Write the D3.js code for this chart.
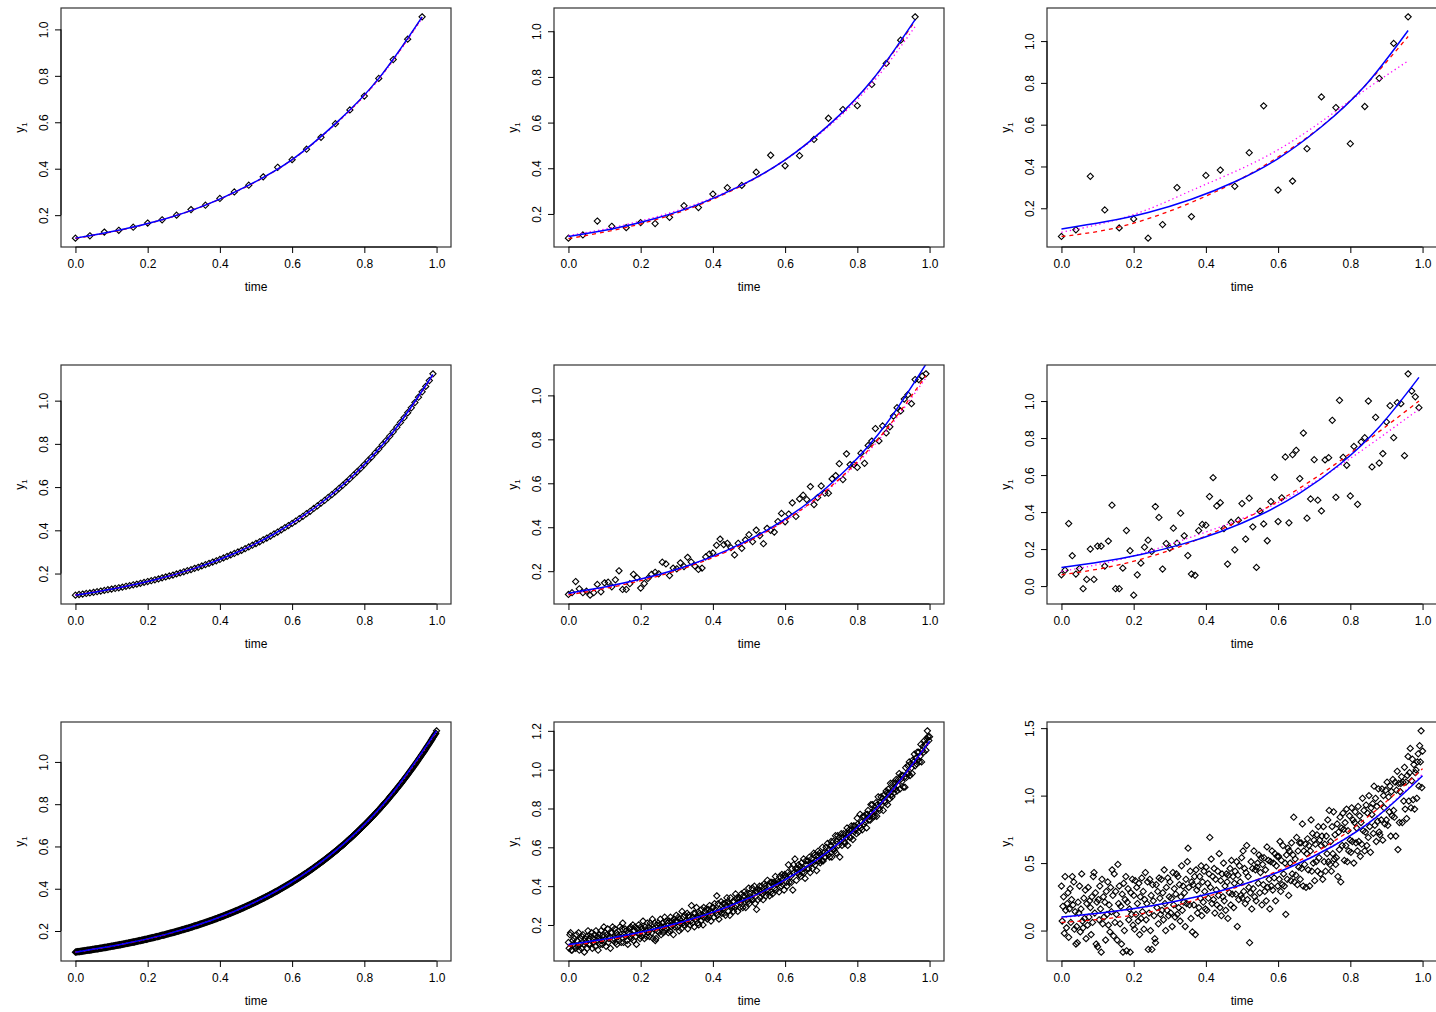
<!DOCTYPE html>
<html>
<head>
<meta charset="utf-8">
<script src="https://cdn.jsdelivr.net/npm/d3@7"></script>
<style>
  body { margin: 0; background: #fff; }
  svg { display: block; font-family: "Liberation Sans", Arial, Helvetica, sans-serif; }
</style>
</head>
<body>
<script>
// sampling grids (evenly spaced observation times)
const time1 = [0,0.04,0.08,0.12,0.16,0.2,0.24,0.28,0.32,0.36,0.4,0.44,0.48,0.52,0.56,0.6,0.64,0.68,0.72,0.76,0.8,0.84,0.88,0.92,0.96];
const time2 = d3.range(100).map(i => i / 100);
const time3 = d3.range(500).map(i => i / 499);

const lineT1 = [0,0.12,0.24,0.36,0.48,0.6,0.72,0.84,0.96];
const lineT2 = [0,0.11,0.22,0.33,0.44,0.55,0.66,0.77,0.88,0.99];
const lineT3 = [0,0.125,0.25,0.375,0.5,0.625,0.75,0.875,1];

const xTicks = [0,0.2,0.4,0.6,0.8,1.0];
const ytStd = [0.2,0.4,0.6,0.8,1.0];
const yt23 = [0,0.2,0.4,0.6,0.8,1.0];
const yt32 = [0.2,0.4,0.6,0.8,1.0,1.2];
const yt33 = [0,0.5,1.0,1.5];

// observations, row 1 (25 points)
const pts11 = [0.101,0.111,0.127,0.135,0.148,0.166,0.180,0.200,0.224,0.243,0.272,0.300,0.329,0.365,0.406,0.439,0.484,0.535,0.594,0.653,0.713,0.789,0.870,0.958,1.054];
const pts12 = [0.094,0.108,0.169,0.146,0.140,0.162,0.158,0.185,0.236,0.228,0.287,0.315,0.325,0.383,0.457,0.411,0.455,0.526,0.619,0.657,0.674,0.767,0.859,0.961,1.063];
const pts13 = [0.065,0.097,0.353,0.192,0.106,0.149,0.057,0.122,0.299,0.160,0.357,0.383,0.305,0.466,0.690,0.287,0.330,0.485,0.733,0.682,0.509,0.687,0.822,0.989,1.116];

// observations, row 2 (100 points)
const pts21 = [0.100,0.103,0.105,0.108,0.110,0.113,0.116,0.119,0.122,0.125,
  0.128,0.131,0.134,0.137,0.141,0.144,0.148,0.151,0.155,0.159,
  0.163,0.167,0.171,0.175,0.180,0.184,0.189,0.193,0.198,0.203,
  0.208,0.213,0.218,0.224,0.229,0.235,0.241,0.247,0.253,0.259,
  0.265,0.272,0.279,0.286,0.293,0.300,0.307,0.315,0.323,0.331,
  0.339,0.347,0.356,0.364,0.373,0.383,0.392,0.402,0.412,0.422,
  0.432,0.443,0.454,0.465,0.477,0.488,0.501,0.513,0.526,0.538,
  0.552,0.565,0.579,0.594,0.608,0.623,0.639,0.655,0.671,0.687,
  0.704,0.722,0.739,0.758,0.776,0.796,0.815,0.835,0.856,0.877,
  0.899,0.921,0.944,0.967,0.991,1.016,1.041,1.066,1.093,1.124];
const pts22 = [0.094,0.102,0.153,0.120,0.102,0.109,0.091,0.102,0.140,0.106,
  0.147,0.150,0.129,0.161,0.202,0.117,0.117,0.143,0.186,0.170,
  0.123,0.144,0.167,0.186,0.195,0.188,0.241,0.233,0.180,0.214,
  0.211,0.238,0.221,0.263,0.242,0.224,0.208,0.214,0.265,0.278,
  0.283,0.318,0.346,0.321,0.327,0.307,0.274,0.327,0.304,0.342,
  0.366,0.334,0.387,0.362,0.325,0.395,0.386,0.378,0.426,0.463,
  0.425,0.460,0.511,0.449,0.529,0.546,0.526,0.585,0.503,0.535,
  0.588,0.555,0.555,0.620,0.635,0.689,0.617,0.734,0.685,0.686,
  0.672,0.737,0.691,0.772,0.792,0.849,0.793,0.861,0.829,0.857,
  0.906,0.944,0.929,0.983,1.003,0.962,1.072,1.072,1.088,1.098];
const pts23 = [0.061,0.086,0.338,0.164,0.065,0.095,-0.014,0.036,0.200,0.036,
  0.216,0.216,0.108,0.243,0.437,-0.014,-0.014,0.097,0.300,0.191,
  -0.049,0.061,0.124,0.210,0.248,0.187,0.430,0.371,0.092,0.230,
  0.205,0.313,0.232,0.394,0.272,0.165,0.065,0.058,0.300,0.333,
  0.329,0.484,0.586,0.433,0.451,0.311,0.119,0.345,0.196,0.356,
  0.446,0.254,0.475,0.320,0.101,0.405,0.336,0.245,0.457,0.588,
  0.349,0.477,0.698,0.342,0.710,0.734,0.581,0.827,0.367,0.471,
  0.683,0.464,0.406,0.682,0.694,0.896,0.480,1.004,0.696,0.653,
  0.487,0.755,0.442,0.779,0.802,1.000,0.644,0.912,0.665,0.716,
  0.887,0.975,0.802,0.991,0.986,0.705,1.147,1.054,1.023,0.964];

// observations, row 3 (500 points)
const pts31 = [0.100,0.101,0.101,0.102,0.102,0.103,0.103,0.104,0.104,0.105,
  0.105,0.106,0.106,0.107,0.107,0.108,0.108,0.109,0.109,0.110,
  0.110,0.111,0.111,0.112,0.113,0.113,0.114,0.114,0.115,0.115,
  0.116,0.116,0.117,0.118,0.118,0.119,0.119,0.120,0.120,0.121,
  0.122,0.122,0.123,0.123,0.124,0.125,0.125,0.126,0.126,0.127,
  0.128,0.128,0.129,0.130,0.130,0.131,0.132,0.132,0.133,0.133,
  0.134,0.135,0.135,0.136,0.137,0.137,0.138,0.139,0.139,0.140,
  0.141,0.141,0.142,0.143,0.144,0.144,0.145,0.146,0.146,0.147,
  0.148,0.148,0.149,0.150,0.151,0.151,0.152,0.153,0.154,0.154,
  0.155,0.156,0.157,0.157,0.158,0.159,0.160,0.161,0.161,0.162,
  0.163,0.164,0.165,0.165,0.166,0.167,0.168,0.169,0.169,0.170,
  0.171,0.172,0.173,0.174,0.174,0.175,0.176,0.177,0.178,0.179,
  0.180,0.180,0.181,0.182,0.183,0.184,0.185,0.186,0.187,0.188,
  0.189,0.190,0.191,0.191,0.192,0.193,0.194,0.195,0.196,0.197,
  0.198,0.199,0.200,0.201,0.202,0.203,0.204,0.205,0.206,0.207,
  0.208,0.209,0.210,0.211,0.212,0.213,0.214,0.215,0.216,0.217,
  0.218,0.219,0.220,0.222,0.223,0.224,0.225,0.226,0.227,0.228,
  0.229,0.230,0.232,0.233,0.234,0.235,0.236,0.237,0.238,0.240,
  0.241,0.242,0.243,0.244,0.246,0.247,0.248,0.249,0.250,0.251,
  0.253,0.254,0.255,0.257,0.258,0.259,0.260,0.262,0.263,0.264,
  0.265,0.267,0.268,0.269,0.271,0.272,0.273,0.275,0.276,0.277,
  0.279,0.280,0.281,0.283,0.284,0.286,0.287,0.288,0.290,0.291,
  0.293,0.294,0.296,0.297,0.298,0.300,0.301,0.303,0.304,0.306,
  0.307,0.309,0.310,0.312,0.313,0.315,0.316,0.318,0.320,0.321,
  0.323,0.324,0.326,0.327,0.329,0.331,0.332,0.334,0.335,0.337,
  0.339,0.340,0.342,0.344,0.346,0.347,0.349,0.351,0.352,0.354,
  0.356,0.357,0.359,0.361,0.363,0.364,0.366,0.368,0.370,0.372,
  0.373,0.375,0.377,0.379,0.381,0.383,0.385,0.386,0.388,0.390,
  0.392,0.394,0.396,0.398,0.400,0.402,0.404,0.406,0.408,0.410,
  0.412,0.414,0.416,0.418,0.420,0.422,0.424,0.426,0.428,0.430,
  0.432,0.434,0.437,0.439,0.441,0.443,0.445,0.447,0.450,0.452,
  0.454,0.456,0.458,0.461,0.463,0.465,0.468,0.470,0.472,0.474,
  0.477,0.479,0.481,0.484,0.486,0.489,0.491,0.493,0.496,0.498,
  0.501,0.503,0.506,0.508,0.511,0.513,0.516,0.518,0.521,0.523,
  0.526,0.528,0.531,0.533,0.536,0.539,0.541,0.544,0.547,0.549,
  0.552,0.555,0.557,0.560,0.563,0.566,0.568,0.571,0.574,0.577,
  0.579,0.582,0.585,0.588,0.591,0.594,0.597,0.600,0.602,0.605,
  0.608,0.611,0.614,0.617,0.620,0.624,0.627,0.630,0.633,0.636,
  0.639,0.642,0.645,0.648,0.652,0.655,0.658,0.661,0.664,0.668,
  0.671,0.674,0.677,0.681,0.684,0.688,0.691,0.694,0.698,0.701,
  0.704,0.708,0.711,0.715,0.718,0.722,0.725,0.729,0.732,0.736,
  0.739,0.743,0.747,0.750,0.754,0.758,0.762,0.765,0.769,0.773,
  0.776,0.780,0.784,0.788,0.792,0.796,0.800,0.804,0.807,0.811,
  0.815,0.819,0.823,0.827,0.832,0.836,0.840,0.844,0.848,0.852,
  0.856,0.860,0.865,0.869,0.873,0.877,0.882,0.886,0.890,0.895,
  0.899,0.903,0.908,0.912,0.917,0.921,0.926,0.930,0.935,0.939,
  0.944,0.949,0.953,0.958,0.963,0.967,0.972,0.977,0.982,0.986,
  0.991,0.996,1.001,1.006,1.011,1.016,1.021,1.026,1.031,1.036,
  1.041,1.046,1.051,1.056,1.061,1.067,1.072,1.077,1.082,1.087,
  1.093,1.098,1.104,1.109,1.115,1.120,1.126,1.131,1.136,1.147];
const pts32 = [0.11,0.08,0.15,0.16,0.07,0.07,0.12,0.10,0.13,0.09,
  0.08,0.15,0.12,0.09,0.16,0.07,0.10,0.13,0.08,0.14,
  0.15,0.10,0.06,0.13,0.11,0.14,0.08,0.17,0.10,0.13,
  0.10,0.14,0.16,0.08,0.13,0.11,0.15,0.09,0.17,0.12,
  0.14,0.07,0.13,0.15,0.10,0.17,0.12,0.10,0.15,0.19,
  0.12,0.16,0.09,0.15,0.18,0.11,0.13,0.14,0.08,0.16,
  0.16,0.19,0.12,0.13,0.18,0.11,0.16,0.10,0.15,0.14,
  0.12,0.19,0.15,0.11,0.18,0.21,0.11,0.15,0.18,0.14,
  0.17,0.12,0.10,0.16,0.18,0.14,0.19,0.13,0.15,0.20,
  0.12,0.17,0.19,0.14,0.10,0.18,0.16,0.20,0.15,0.13,
  0.19,0.14,0.18,0.22,0.16,0.13,0.19,0.17,0.14,0.21,
  0.16,0.19,0.14,0.21,0.18,0.16,0.23,0.13,0.18,0.21,
  0.12,0.13,0.20,0.17,0.21,0.16,0.20,0.23,0.15,0.19,
  0.21,0.16,0.19,0.24,0.17,0.22,0.18,0.21,0.16,0.22,
  0.17,0.24,0.19,0.22,0.20,0.15,0.23,0.19,0.22,0.25,
  0.22,0.19,0.24,0.17,0.23,0.21,0.18,0.27,0.21,0.24,
  0.20,0.25,0.22,0.21,0.26,0.18,0.25,0.24,0.20,0.22,
  0.30,0.21,0.24,0.26,0.19,0.26,0.23,0.29,0.24,0.21,
  0.20,0.26,0.25,0.22,0.28,0.25,0.20,0.29,0.24,0.27,
  0.28,0.24,0.23,0.28,0.24,0.30,0.27,0.22,0.26,0.29,
  0.29,0.24,0.31,0.28,0.26,0.35,0.25,0.31,0.23,0.28,
  0.27,0.32,0.26,0.28,0.31,0.26,0.31,0.25,0.30,0.34,
  0.32,0.27,0.31,0.25,0.34,0.30,0.29,0.32,0.27,0.32,
  0.29,0.36,0.30,0.34,0.27,0.33,0.34,0.29,0.32,0.36,
  0.33,0.29,0.35,0.37,0.32,0.29,0.36,0.33,0.32,0.39,
  0.31,0.36,0.34,0.33,0.39,0.33,0.36,0.40,0.31,0.37,
  0.28,0.37,0.33,0.38,0.40,0.34,0.37,0.40,0.36,0.33,
  0.41,0.37,0.40,0.35,0.38,0.43,0.37,0.40,0.35,0.42,
  0.37,0.42,0.36,0.41,0.42,0.39,0.45,0.38,0.41,0.43,
  0.42,0.37,0.45,0.42,0.40,0.46,0.41,0.45,0.38,0.46,
  0.45,0.42,0.40,0.47,0.51,0.42,0.46,0.45,0.42,0.49,
  0.38,0.51,0.47,0.54,0.49,0.43,0.47,0.49,0.51,0.46,
  0.50,0.45,0.52,0.47,0.49,0.54,0.47,0.44,0.53,0.51,
  0.49,0.53,0.49,0.55,0.47,0.52,0.54,0.49,0.52,0.57,
  0.56,0.51,0.53,0.48,0.56,0.58,0.53,0.57,0.52,0.56,
  0.53,0.60,0.53,0.57,0.55,0.55,0.60,0.57,0.62,0.56,
  0.59,0.55,0.61,0.63,0.55,0.59,0.63,0.59,0.58,0.66,
  0.57,0.63,0.66,0.61,0.65,0.55,0.63,0.67,0.61,0.65,
  0.67,0.63,0.62,0.67,0.65,0.70,0.61,0.67,0.69,0.65,
  0.65,0.71,0.69,0.64,0.71,0.68,0.71,0.69,0.67,0.75,
  0.72,0.68,0.71,0.77,0.70,0.73,0.69,0.76,0.72,0.76,
  0.73,0.77,0.70,0.77,0.79,0.74,0.76,0.74,0.82,0.78,
  0.82,0.76,0.79,0.76,0.79,0.83,0.76,0.82,0.86,0.80,
  0.79,0.83,0.86,0.82,0.85,0.79,0.87,0.84,0.83,0.89,
  0.88,0.82,0.90,0.88,0.85,0.93,0.87,0.86,0.93,0.90,
  0.88,0.93,0.90,0.95,0.89,0.92,0.95,0.98,0.90,0.95,
  0.97,0.94,0.97,0.91,0.96,0.91,1.01,0.96,0.98,1.02,
  0.98,1.04,0.97,1.03,1.01,0.98,1.05,1.04,1.08,1.02,
  1.06,1.03,1.09,1.05,1.09,1.04,1.07,1.13,1.04,1.10,
  1.12,1.09,1.15,1.13,1.10,1.16,1.20,1.17,1.15,1.17];
const pts33 = [0.33,0.07,0.18,0.25,-0.02,0.40,0.15,0.02,0.20,0.28,
  -0.05,0.16,0.31,0.06,0.23,0.40,0.19,0.36,0.01,0.14,
  -0.10,0.03,-0.09,0.21,0.13,0.33,-0.01,0.16,0.42,0.07,
  0.02,0.24,0.09,0.30,-0.06,0.20,0.04,0.32,0.10,0.22,
  0.17,-0.03,0.25,0.06,0.40,0.43,0.13,0.28,-0.10,0.21,
  -0.12,0.23,0.08,0.33,0.16,-0.16,0.38,0.05,0.25,0.10,
  0.21,-0.07,0.29,0.12,0.36,0.04,0.19,-0.01,0.32,0.14,
  0.45,0.26,-0.04,0.42,0.06,0.29,0.12,-0.07,0.49,0.20,
  0.33,0.05,0.18,-0.10,0.27,-0.16,0.35,0.00,0.23,0.40,
  -0.15,0.21,0.31,0.08,0.16,-0.16,0.28,0.12,0.38,0.04,
  0.26,0.01,0.37,0.12,0.32,0.20,0.07,0.35,-0.03,0.25,
  0.09,0.39,0.14,0.29,0.01,0.23,0.43,0.08,0.20,0.36,
  -0.14,0.13,0.38,0.00,0.26,-0.14,0.34,0.22,0.11,-0.06,
  -0.09,0.34,0.17,0.29,0.05,0.39,0.24,0.12,0.38,0.15,
  0.28,0.08,0.45,0.20,0.00,0.32,0.15,0.39,0.11,0.25,
  0.36,0.13,0.24,0.03,0.43,0.19,0.31,0.10,0.27,0.42,
  0.12,0.40,0.17,0.34,0.07,0.25,0.48,0.15,0.33,0.21,
  0.28,0.03,0.38,0.20,0.51,0.61,0.32,0.19,0.44,0.09,
  0.36,-0.01,0.34,0.19,0.40,-0.03,0.45,0.30,0.13,0.33,
  0.17,0.40,0.24,0.48,0.11,0.36,0.21,0.44,0.29,0.16,
  0.47,0.15,0.35,0.24,0.42,0.69,0.32,0.53,0.20,0.40,
  0.23,0.46,0.13,0.38,0.30,0.19,0.44,0.26,0.57,0.17,
  0.37,0.11,0.42,0.25,0.50,0.22,0.33,0.15,0.42,0.36,
  0.09,0.41,0.28,0.46,0.19,0.52,0.27,0.40,0.17,0.35,
  0.44,0.27,0.51,0.03,0.41,0.23,0.48,0.36,0.26,0.54,
  0.24,0.59,0.29,0.46,0.20,0.43,0.63,0.23,0.40,0.32,
  -0.09,0.28,0.51,0.16,0.46,0.31,0.59,0.25,0.45,0.22,
  0.47,0.50,0.35,0.56,0.28,0.43,0.54,0.19,0.49,0.34,
  0.54,0.29,0.45,0.22,0.62,0.32,0.52,0.38,0.16,0.51,
  0.33,0.59,0.30,0.50,0.39,0.57,0.22,0.48,0.55,0.33,
  0.55,0.38,0.66,0.29,0.52,0.34,0.63,0.42,0.33,0.50,
  0.12,0.56,0.38,0.61,0.26,0.59,0.50,0.37,0.65,0.42,
  0.56,0.84,0.36,0.53,0.41,0.69,0.34,0.59,0.47,0.65,
  0.38,0.65,0.46,0.79,0.33,0.59,0.49,0.64,0.32,0.57,
  0.68,0.45,0.63,0.33,0.59,0.82,0.44,0.72,0.50,0.67,
  0.37,0.64,0.51,0.71,0.44,0.77,0.54,0.67,0.42,0.63,
  0.70,0.38,0.77,0.51,0.64,0.44,0.70,0.57,0.82,0.51,
  0.89,0.49,0.66,0.44,0.77,0.57,0.88,0.53,0.71,0.49,
  0.54,0.79,0.40,0.73,0.60,0.84,0.36,0.76,0.63,0.87,
  0.75,0.52,0.80,0.63,0.90,0.51,0.74,0.59,0.85,0.67,
  0.58,0.91,0.66,0.82,0.50,0.80,0.88,0.65,0.76,0.59,
  0.92,0.66,0.85,0.55,0.80,0.64,0.98,0.74,0.89,0.59,
  0.73,0.93,0.63,0.87,0.69,1.00,0.77,0.58,0.91,0.86,
  0.94,0.72,1.07,0.78,0.98,0.66,0.92,0.81,1.05,0.73,
  0.71,0.94,0.82,1.05,0.67,1.00,0.91,0.79,1.04,0.82,
  1.10,0.78,0.99,0.88,1.07,0.70,1.03,0.85,1.12,0.89,
  0.84,1.10,0.70,1.04,1.18,0.60,1.09,0.80,1.03,1.09,
  1.14,0.80,1.10,0.96,1.21,0.90,1.10,0.83,1.15,1.29,
  0.96,1.17,1.35,0.91,1.11,1.27,0.97,1.23,0.90,1.17,
  1.19,0.98,1.25,1.31,1.07,1.37,1.25,1.48,1.06,1.33];

// fitted curves (blue solid, red dashed, magenta dotted), read at lineT*
const blue11 = [0.101,0.135,0.180,0.243,0.329,0.439,0.594,0.789,1.054];
const red11  = [0.100,0.134,0.180,0.243,0.328,0.439,0.593,0.788,1.052];
const mag11  = [0.101,0.135,0.181,0.244,0.329,0.438,0.591,0.785,1.048];
const blue12 = [0.101,0.134,0.180,0.242,0.326,0.437,0.588,0.784,1.051];
const red12  = [0.092,0.127,0.174,0.238,0.324,0.437,0.588,0.783,1.045];
const mag12  = [0.105,0.140,0.186,0.247,0.328,0.436,0.582,0.770,1.020];
const blue13 = [0.101,0.135,0.180,0.243,0.327,0.438,0.590,0.785,1.051];
const red13  = [0.065,0.095,0.150,0.228,0.325,0.445,0.592,0.785,1.022];
const mag13  = [0.085,0.130,0.195,0.285,0.375,0.480,0.615,0.765,0.905];

const blue21 = [0.100,0.131,0.171,0.224,0.293,0.383,0.501,0.655,0.856,1.121];
const red21  = [0.100,0.131,0.171,0.224,0.293,0.383,0.501,0.655,0.856,1.120];
const mag21  = [0.101,0.131,0.171,0.224,0.293,0.383,0.500,0.654,0.854,1.117];
const blue22 = [0.100,0.131,0.172,0.225,0.296,0.387,0.507,0.664,0.870,1.142];
const red22  = [0.092,0.124,0.165,0.219,0.290,0.381,0.498,0.650,0.845,1.090];
const mag22  = [0.095,0.128,0.170,0.224,0.292,0.381,0.496,0.645,0.838,1.080];
const blue23 = [0.100,0.131,0.171,0.224,0.294,0.384,0.502,0.657,0.860,1.128];
const red23  = [0.061,0.095,0.145,0.215,0.305,0.405,0.530,0.675,0.835,1.000];
const mag23  = [0.080,0.120,0.175,0.245,0.320,0.405,0.515,0.650,0.800,0.955];

const blue31 = [0.100,0.136,0.184,0.250,0.339,0.460,0.623,0.846,1.147];
const red31  = [0.100,0.136,0.184,0.250,0.339,0.460,0.623,0.846,1.146];
const mag31  = [0.100,0.136,0.184,0.250,0.339,0.460,0.622,0.844,1.143];
const blue32 = [0.100,0.136,0.184,0.250,0.339,0.460,0.623,0.846,1.147];
const red32  = [0.090,0.127,0.177,0.245,0.336,0.458,0.622,0.845,1.150];
const mag32  = [0.097,0.133,0.182,0.249,0.339,0.460,0.622,0.843,1.140];
const blue33 = [0.100,0.136,0.184,0.250,0.339,0.460,0.623,0.846,1.147];
const red33  = [0.060,0.088,0.140,0.230,0.335,0.475,0.655,0.900,1.200];
const mag33  = [0.095,0.132,0.182,0.250,0.340,0.462,0.627,0.852,1.160];

const panels = [
  {row: 0, col: 0, t: time1, y: pts11, yt: ytStd, lt: lineT1, blue: blue11, red: red11, mag: mag11},
  {row: 0, col: 1, t: time1, y: pts12, yt: ytStd, lt: lineT1, blue: blue12, red: red12, mag: mag12},
  {row: 0, col: 2, t: time1, y: pts13, yt: ytStd, lt: lineT1, blue: blue13, red: red13, mag: mag13},
  {row: 1, col: 0, t: time2, y: pts21, yt: ytStd, lt: lineT2, blue: blue21, red: red21, mag: mag21},
  {row: 1, col: 1, t: time2, y: pts22, yt: ytStd, lt: lineT2, blue: blue22, red: red22, mag: mag22},
  {row: 1, col: 2, t: time2, y: pts23, yt: yt23, lt: lineT2, blue: blue23, red: red23, mag: mag23},
  {row: 2, col: 0, t: time3, y: pts31, yt: ytStd, lt: lineT3, blue: blue31, red: red31, mag: mag31},
  {row: 2, col: 1, t: time3, y: pts32, yt: yt32, lt: lineT3, blue: blue32, red: red32, mag: mag32},
  {row: 2, col: 2, t: time3, y: pts33, yt: yt33, lt: lineT3, blue: blue33, red: red33, mag: mag33}
];

const W = 1436, H = 1012,
      colX = [61, 554, 1047],
      rowY = [8, 365, 722],
      pw = 390, ph = 239,
      fmt = d3.format(".1f"),
      r = 3.1,
      diamond = `M0,${-r}L${r},0L0,${r}L${-r},0Z`;

const svg = d3.select("body")
  .append("svg")
  .attr("width", W)
  .attr("height", H);

const defs = svg.append("defs");

panels.forEach((p, k) => {
  const g = svg.append("g")
    .attr("transform", "translate(" + colX[p.col] + "," + rowY[p.row] + ")");

  const x = d3.scaleLinear().domain([-0.04, 1.04]).range([0, pw]);
  // R style: data range widened by 4% on each side
  const ext = d3.extent(p.y), pad = (ext[1] - ext[0]) * 0.04;
  const y = d3.scaleLinear().domain([ext[0] - pad, ext[1] + pad]).range([ph, 0]);

  defs.append("clipPath").attr("id", "clip" + k)
    .append("rect").attr("width", pw).attr("height", ph);

  const plot = g.append("g").attr("clip-path", "url(#clip" + k + ")");

  plot.selectAll("path.pt")
    .data(p.y)
    .join("path")
    .attr("class", "pt")
    .attr("d", diamond)
    .attr("transform", (d, i) => "translate(" + x(p.t[i]) + "," + y(d) + ")")
    .attr("fill", "none")
    .attr("stroke", "#000")
    .attr("stroke-width", 1.1);

  const line = d3.line()
    .x((d, i) => x(p.lt[i]))
    .y(d => y(d))
    .curve(d3.curveNatural);

  plot.append("path").attr("d", line(p.mag))
    .attr("fill", "none").attr("stroke", "#ff00ff").attr("stroke-width", 1.3)
    .attr("stroke-dasharray", "1.3,3");
  plot.append("path").attr("d", line(p.red))
    .attr("fill", "none").attr("stroke", "#ff0000").attr("stroke-width", 1.3)
    .attr("stroke-dasharray", "4,4");
  plot.append("path").attr("d", line(p.blue))
    .attr("fill", "none").attr("stroke", "#0000ff").attr("stroke-width", 1.5);

  g.append("rect")
    .attr("width", pw).attr("height", ph)
    .attr("fill", "none").attr("stroke", "#333").attr("stroke-width", 1.2);

  // x axis
  const xa = g.append("g")
    .attr("transform", "translate(0," + ph + ")")
    .call(d3.axisBottom(x).tickValues(xTicks).tickSize(6).tickPadding(6).tickFormat(fmt));
  xa.select(".domain").remove();
  xa.attr("font-size", 12).attr("font-family", null);
  xa.append("line")
    .attr("x1", x(xTicks[0])).attr("x2", x(xTicks[xTicks.length - 1]))
    .attr("stroke", "#000");

  // y axis, labels parallel to the axis
  const ya = g.append("g")
    .call(d3.axisLeft(y).tickValues(p.yt).tickSize(6).tickFormat(fmt));
  ya.select(".domain").remove();
  ya.attr("font-size", 12).attr("font-family", null);
  ya.selectAll(".tick text")
    .attr("x", 0).attr("dy", null)
    .attr("text-anchor", "middle")
    .attr("transform", "translate(-13.5,0) rotate(-90)");
  ya.append("line")
    .attr("y1", y(p.yt[0])).attr("y2", y(p.yt[p.yt.length - 1]))
    .attr("stroke", "#000");

  g.append("text")
    .attr("x", pw / 2)
    .attr("y", ph + 44)
    .attr("text-anchor", "middle")
    .style("font-size", "12px")
    .text("time");

  const yl = g.append("text")
    .attr("transform", "translate(-37," + (ph / 2) + ") rotate(-90)")
    .attr("text-anchor", "middle")
    .style("font-size", "12px");
  yl.append("tspan").text("y");
  yl.append("tspan").attr("dy", 3).style("font-size", "8px").text("1");
});
</script>
</body>
</html>
